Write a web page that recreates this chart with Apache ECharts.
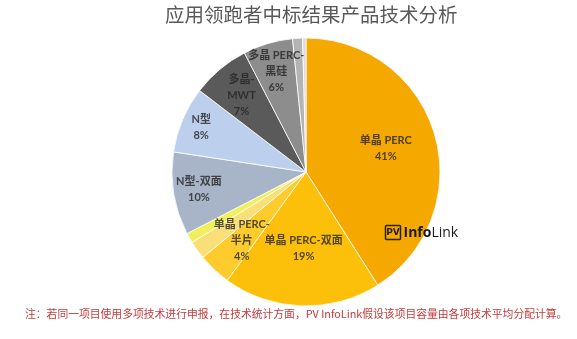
<!DOCTYPE html>
<html>
<head>
<meta charset="utf-8">
<script src="https://cdn.jsdelivr.net/npm/echarts@6/dist/echarts.min.js"></script>
<style>
html,body{margin:0;padding:0;background:#fff;}
#chart{width:577px;height:339px;}
</style>
</head>
<body>
<div id="chart"></div>
<script>
// ---- data ----
const titleText = '应用领跑者中标结果产品技术分析';
const noteText = '注：若同一项目使用多项技术进行申报，在技术统计方面，PV InfoLink假设该项目容量由各项技术平均分配计算。';
const categories = ['单晶 PERC', '单晶 PERC-双面', '单晶 PERC-半片', '其他A', '其他B', 'N型-双面', 'N型', '多晶-MWT', '多晶 PERC-黑硅', '其他C', '其他D'];
const values = [41, 19, 4, 2.2, 1.2, 10, 8, 7, 6, 1.2, 0.4];
const labelTexts = ['单晶 PERC', '单晶 PERC-双面', '单晶 PERC-\n半片', null, null, 'N型-双面', 'N型', '多晶-\nMWT', '多晶 PERC-\n黑硅', null, null];

// ---- styles ----
const colors = ['#F4A800', '#FDC00A', '#FECB2C', '#FADF78', '#F1F05A', '#A8B4C7', '#BCCFEC', '#5A5A5A', '#8D8D8D', '#B4B4B4', '#DADADA'];
const labelRadiusFrac = [0.62, 0.57, 0.70, null, null, 0.81, 0.85, 0.75, 0.78, null, null];
const CX = 306, CY = 172, R = 134;

const chart = echarts.init(document.getElementById('chart'), null, {renderer: 'canvas'});
const FONT = "Lato, 'Noto Sans CJK SC', sans-serif";

const total = values.reduce((a, b) => a + b, 0);
let cum = 0;
const labelPoints = [];
values.forEach((v, i) => {
  const mid = cum + v / 2;
  cum += v;
  if (labelTexts[i]) {
    labelPoints.push({
      value: [labelRadiusFrac[i], mid],
      label: {formatter: labelTexts[i] + '\n' + Math.round(v / total * 100) + '%'}
    });
  }
});

chart.setOption({
  backgroundColor: '#ffffff',
  animation: false,
  title: [{
    text: titleText,
    left: 160,
    top: 0,
    textStyle: {fontSize: 19.5, fontWeight: 'normal', color: '#595959', fontFamily: "'Noto Sans CJK SC', sans-serif"}
  }, {
    text: noteText,
    left: 20,
    top: 304,
    textStyle: {fontSize: 10.8, fontWeight: 'normal', color: '#C43A3A', fontFamily: "'Noto Sans CJK SC', sans-serif"}
  }],
  polar: {center: [CX, CY], radius: R},
  angleAxis: {type: 'value', min: 0, max: total, startAngle: 90, clockwise: true, show: false},
  radiusAxis: {type: 'value', min: 0, max: 1, show: false},
  graphic: [{
    type: 'group',
    left: 383,
    top: 223,
    z: 100,
    children: [
      {type: 'rect', z: 100, shape: {x: 0, y: 0, width: 15, height: 14, r: 1}, style: {fill: 'none', stroke: '#2a2016', lineWidth: 1.5}},
      {type: 'text', z: 100, x: 7.5, y: 7.5, style: {text: 'PV', fill: '#2a2016', font: "bold 9px 'DejaVu Sans'", align: 'center', verticalAlign: 'middle'}},
      {type: 'text', z: 100, x: 18, y: 7.5, style: {
        text: '{a|Info}{b|Link}',
        verticalAlign: 'middle',
        rich: {
          a: {fill: '#1a1a1a', fontFamily: 'Open Sans', fontWeight: 'bold', fontSize: 14},
          b: {fill: '#1a1a1a', fontFamily: 'Open Sans', fontWeight: 'normal', fontSize: 14}
        }
      }}
    ]
  }],
  series: [{
    type: 'pie',
    center: [CX, CY],
    radius: [0, R],
    startAngle: 90,
    clockwise: true,
    silent: true,
    label: {show: false},
    labelLine: {show: false},
    itemStyle: {borderColor: '#ffffff', borderWidth: 0.8},
    emphasis: {disabled: true},
    data: categories.map((c, i) => ({name: c, value: values[i], itemStyle: {color: colors[i]}}))
  }, {
    type: 'scatter',
    coordinateSystem: 'polar',
    symbolSize: 0,
    silent: true,
    z: 10,
    label: {
      show: true,
      position: 'inside',
      color: '#262626',
      fontSize: 11,
      fontWeight: 'bold',
      fontFamily: FONT,
      lineHeight: 16,
      align: 'center',
      verticalAlign: 'middle'
    },
    data: labelPoints
  }]
});
</script>
</body>
</html>
